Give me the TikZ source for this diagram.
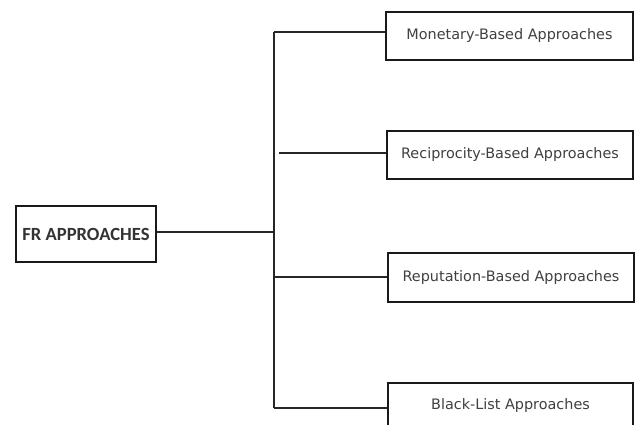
\documentclass[tikz,border=0pt]{standalone}
\usepackage{fontspec}
\setmainfont{DejaVu Sans}
\newfontfamily\frfont{Carlito}
\begin{document}
\begin{tikzpicture}[x=1pt,y=-1pt,
  line/.style={line width=2.2pt, draw=black!85},
  box/.style={draw=black!90, line width=2.2pt, fill=white, inner sep=0pt, text=black!75,
    font=\fontsize{14.4}{16}\selectfont},
  rootbox/.style={draw=black!90, line width=2.2pt, fill=white, inner sep=0pt, text=black!80,
    font=\frfont\bfseries\fontsize{18.6}{20}\selectfont}]
\useasboundingbox (0,0) rectangle (638,425);
\begin{scope}
\clip (0,0) rectangle (638,425);
\node[rootbox, minimum width=140pt, minimum height=56pt] (fr) at (86,234) {FR APPROACHES};
\node[box, minimum width=247pt, minimum height=48pt] (m) at (509.5,36) {Monetary-Based Approaches};
\node[box, minimum width=246pt, minimum height=48pt] (rc) at (510,155) {Reciprocity-Based Approaches};
\node[box, minimum width=246pt, minimum height=49pt] (rp) at (511,277.5) {Reputation-Based Approaches};
\node[box, minimum width=245pt, minimum height=46pt] (bl) at (510.5,406) {Black-List Approaches};
\coordinate (top) at (274,32);
\coordinate (mid) at (274,232);
\coordinate (bot) at (274,408);
\coordinate (rcs) at (279,153);
\coordinate (rps) at (274,277);
\draw[line] (top) -- (bot);
\draw[line] (fr.east |- mid) -- (mid);
\draw[line] (top) -- (top -| m.west);
\draw[line] (rcs) -- (rcs -| rc.west);
\draw[line] (rps) -- (rps -| rp.west);
\draw[line] (bot) -- (bot -| bl.west);
\end{scope}
\end{tikzpicture}
\end{document}
